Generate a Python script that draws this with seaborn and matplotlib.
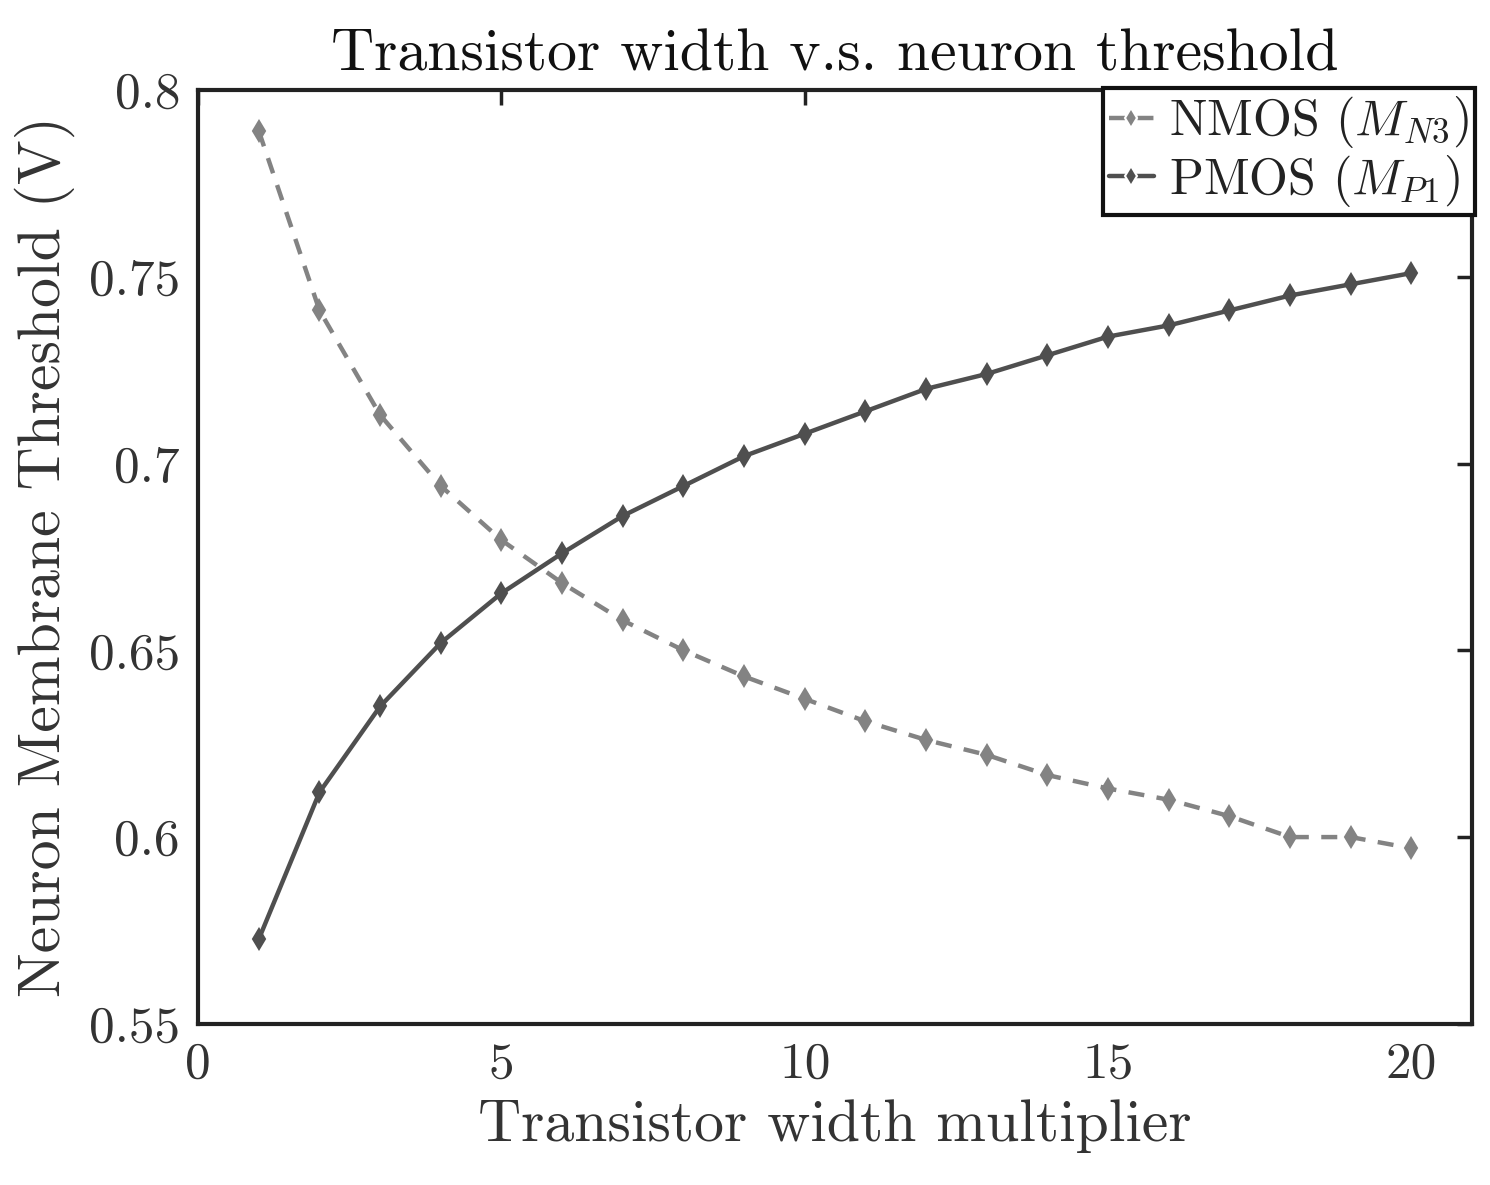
import numpy as np
import pandas as pd
import matplotlib
matplotlib.use('Agg')
import matplotlib.pyplot as plt
import seaborn as sns

# Valores
width_mult = list(range(1, 21))
nmos_vth = [0.789, 0.741, 0.713, 0.694, 0.6795, 0.668, 0.658, 0.650, 0.643, 0.637,
            0.631, 0.626, 0.622, 0.6166, 0.613, 0.610, 0.6056, 0.600, 0.600, 0.597]
pmos_vth = [0.5727, 0.612, 0.635, 0.652, 0.6653, 0.676, 0.686, 0.694, 0.702, 0.708,
            0.714, 0.720, 0.724, 0.729, 0.734, 0.737, 0.741, 0.745, 0.748, 0.751]
series_names = [r'NMOS $(M_{N3})$', r'PMOS $(M_{P1})$']
y_ticks = [0.55, 0.6, 0.65, 0.7, 0.75, 0.8]
y_tick_labels = ['0.55', '0.6', '0.65', '0.7', '0.75', '0.8']
x_ticks = [0, 5, 10, 15, 20]

sns.set_style('white')
plt.rcParams['font.family'] = ['cmr10', 'DejaVu Serif']
plt.rcParams['mathtext.fontset'] = 'cm'
plt.rcParams['axes.formatter.use_mathtext'] = True

df = pd.DataFrame({
    'x': width_mult * 2,
    'vth': nmos_vth + pmos_vth,
    'tipo': [series_names[0]] * 20 + [series_names[1]] * 20,
})

cores = ['#838383', '#4f4f4f']

fig, ax = plt.subplots(figsize=(14.9, 11.85), dpi=100)
fig.subplots_adjust(left=0.133, right=0.988, top=0.924, bottom=0.136)

sns.lineplot(data=df, x='x', y='vth', hue='tipo', style='tipo',
             palette=cores, markers=['d', 'd'],
             dashes=[(3.6, 2.8), ''], linewidth=3.2, markersize=10,
             markeredgewidth=1.5, ax=ax)
for ln, c in zip(ax.get_lines(), cores):
    ln.set_markeredgecolor(c)

ax.set_xlim(0, 21)
ax.set_ylim(0.55, 0.8)
ax.set_xticks(x_ticks)
ax.set_xticklabels([str(t) for t in x_ticks])
ax.set_yticks(y_ticks)
ax.set_yticklabels(y_tick_labels)
ax.tick_params(direction='in', length=11, width=2.5, labelsize=37,
               top=True, right=True, pad=13, colors='#222222')
ax.tick_params(axis='both', labelcolor='#333333')
for s in ax.spines.values():
    s.set_linewidth(3)
    s.set_color('#222222')

ax.set_xlabel('Transistor width multiplier', fontsize=43, color='#333333', labelpad=8)
ax.set_ylabel('Neuron Membrane Threshold (V)', fontsize=43, color='#333333', labelpad=10)
ax.set_title('Transistor width v.s. neuron threshold', fontsize=43, color='#111111', pad=14)

leg = ax.legend(loc='upper right', bbox_to_anchor=(1.002, 1.002), borderaxespad=0,
                fontsize=36, handlelength=0.9, handletextpad=0.3, borderpad=0.12,
                labelspacing=0.05, fancybox=False, framealpha=1, edgecolor='#111111')
leg.get_frame().set_linewidth(3)
for t in leg.get_texts():
    t.set_color('#222222')

plt.savefig('out.png', dpi=100)
